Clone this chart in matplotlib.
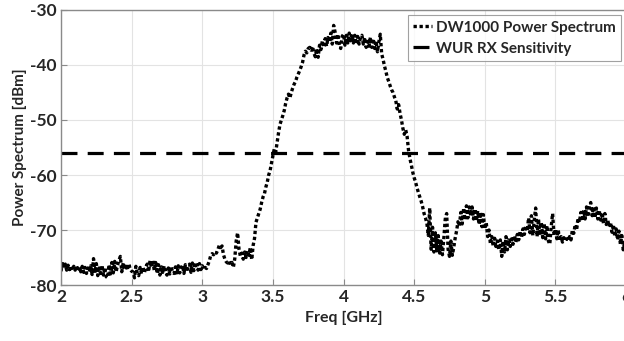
import numpy as np
import matplotlib
matplotlib.use("Agg")
import matplotlib.pyplot as plt

plt.rcParams['font.family'] = ['Lato', 'DejaVu Sans']
plt.rcParams['font.weight'] = 'bold'
plt.rcParams['axes.unicode_minus'] = False

power_dbm = [
    -77.5, -75.8, -77.0, -76.2, -77.3, -76.4, -77.2, -76.5, -77.4, -76.6,
    -77.3, -76.5, -77.5, -76.7, -77.6, -76.6, -77.7, -76.8, -77.9, -76.9,
    -77.6, -76.5, -78.1, -75.2, -77.8, -76.1, -78.3, -76.9, -77.9, -76.4,
    -78.2, -76.8, -78.5, -78.7, -76.3, -78.0, -75.9, -77.8, -75.7, -77.6,
    -76.4, -75.5, -74.8, -77.6, -76.0, -77.2, -76.2, -77.3, -76.1, -77.2,
    -77.5, -77.6, -78.7, -76.6, -77.9, -78.3, -76.8, -78.0, -76.7, -77.8,
    -76.7, -76.2, -77.6, -75.6, -76.8, -75.5, -77.4, -75.9, -77.9, -76.3,
    -78.2, -76.7, -77.7, -76.5, -77.8, -78.2, -76.9, -78.0, -76.6, -77.7,
    -77.9, -76.7, -78.1, -76.5, -77.8, -76.9, -76.4, -77.9, -76.3, -77.6,
    -76.7, -76.2, -77.7, -76.0, -77.4, -76.3, -75.9, -77.3, -76.1, -77.2,
    -76.5, -77.2, -76.8, -77.0, -76.3, -75.6, -74.6, -74.3, -74.5, -74.0,
    -74.2, -73.6, -72.8, -73.2, -72.9, -74.5, -75.3, -75.8, -76.0, -75.6,
    -76.3, -75.9, -76.8, -75.2, -72.0, -70.5, -73.5, -74.8, -74.2, -75.3,
    -74.0, -75.0, -73.8, -74.6, -73.2, -75.4, -72.8, -71.5, -68.6, -67.8,
    -67.0, -66.2, -65.0, -64.0, -63.4, -62.2, -61.3, -60.0, -59.2, -57.8,
    -56.5, -55.2, -55.8, -54.0, -52.3, -50.8, -50.0, -49.2, -48.3, -47.0,
    -46.0, -45.3, -46.0, -45.0, -44.2, -43.5, -43.0, -42.2, -41.6, -41.0,
    -40.3, -39.5, -38.2, -37.5, -37.8, -37.0, -36.8, -37.3, -36.6, -37.8,
    -38.5, -37.0, -38.6, -36.4, -37.2, -35.6, -36.8, -35.2, -36.6, -35.0,
    -35.8, -34.2, -36.2, -32.8, -34.0, -36.0, -34.4, -36.4, -37.0, -34.8,
    -34.4, -36.4, -34.6, -36.0, -34.2, -35.6, -34.4, -36.0, -34.6, -36.2,
    -34.8, -36.2, -35.0, -34.6, -36.2, -35.0, -36.8, -35.2, -36.6, -35.0,
    -36.8, -35.2, -37.0, -35.6, -37.6, -35.8, -34.4, -38.0, -39.0, -40.2,
    -41.2, -42.3, -43.0, -43.8, -44.5, -45.0, -45.8, -46.5, -48.0, -47.2,
    -48.8, -50.0, -51.5, -52.6, -51.8, -53.0, -55.5, -57.0, -58.2, -59.5,
    -60.5, -61.3, -62.3, -63.2, -64.0, -64.8, -65.8, -67.0, -67.8, -68.8,
    -71.0, -66.0, -73.5, -69.5, -74.0, -70.5, -73.8, -71.0, -74.2, -72.0,
    -74.5, -71.5, -68.0, -67.0, -73.5, -74.8, -72.0, -74.6, -73.2, -71.5,
    -70.2, -68.5, -69.3, -66.8, -68.9, -66.0, -68.2, -65.6, -67.8, -65.8,
    -67.4, -65.8, -68.0, -66.2, -68.4, -66.5, -69.0, -66.8, -69.4, -67.2,
    -69.8, -68.6, -71.2, -70.0, -72.6, -71.2, -73.0, -71.5, -73.4, -72.0,
    -73.6, -71.8, -74.8, -72.0, -74.0, -71.2, -73.6, -71.8, -73.0, -71.6,
    -72.6, -71.0, -72.2, -70.8, -71.8, -70.2, -71.4, -69.8, -70.8, -69.2,
    -70.2, -67.8, -70.5, -67.4, -71.0, -68.2, -66.0, -71.2, -68.0, -71.0,
    -68.6, -71.4, -68.8, -71.6, -69.2, -72.0, -72.6, -69.4, -67.0, -71.0,
    -69.8, -71.6, -70.0, -72.0, -71.2, -72.2, -71.4, -72.0, -71.6, -72.0,
    -71.2, -71.8, -70.0, -70.6, -69.0, -70.0, -67.8, -68.6, -66.8, -68.4,
    -66.4, -68.0, -65.8, -67.6, -65.6, -65.0, -67.4, -65.8, -67.8, -66.0,
    -68.0, -66.4, -68.2, -66.8, -68.8, -67.0, -69.0, -68.2, -69.4, -68.6,
    -70.4, -69.0, -71.2, -69.8, -71.8, -70.2, -72.6, -71.0, -73.6, -72.2,
    -74.0,
]
freq_start_ghz = 2.0
freq_stop_ghz = 6.0
freq_ghz = np.linspace(freq_start_ghz, freq_stop_ghz, len(power_dbm))

sensitivity_dbm = -56
x_ticks = [2, 2.5, 3, 3.5, 4, 4.5, 5, 5.5, 6]
x_tick_labels = ['2', '2.5', '3', '3.5', '4', '4.5', '5', '5.5', '6']
y_ticks = [-80, -70, -60, -50, -40, -30]
y_tick_labels = ['-80', '-70', '-60', '-50', '-40', '-30']
series_labels = ['DW1000 Power Spectrum', 'WUR RX Sensitivity']

fig = plt.figure(figsize=(6.24, 3.41), dpi=100)
ax = fig.add_axes([0.0978, 0.1642, 0.9055, 0.8065])

ax.plot(freq_ghz, power_dbm, color='black', linestyle=(0, (1, 0.8)), linewidth=2.4,
        label=series_labels[0])
ax.axhline(sensitivity_dbm, color='black', linestyle=(0, (5, 3.2)), linewidth=2.3,
           label=series_labels[1])

ax.set_xlim(2, 6)
ax.set_ylim(-80, -30)
ax.set_xticks(x_ticks)
ax.set_xticklabels(x_tick_labels)
ax.set_yticks(y_ticks)
ax.set_yticklabels(y_tick_labels)
ax.grid(True, color='#e3e3e3', linewidth=0.8)
ax.set_axisbelow(True)
for s in ax.spines.values():
    s.set_color('#8a8a8a')
    s.set_linewidth(1.0)
ax.tick_params(direction='in', length=4, color='#8a8a8a', labelsize=12.5,
               labelcolor='#262626', pad=3)
for lab in ax.get_xticklabels() + ax.get_yticklabels():
    lab.set_fontweight('bold')

ax.set_xlabel('Freq [GHz]', fontsize=11.5, fontweight='bold', color='#262626', labelpad=4)
ax.set_ylabel('Power Spectrum [dBm]', fontsize=11, fontweight='bold', color='#262626', labelpad=2)

leg = ax.legend(loc='upper right', frameon=True, fancybox=False,
                handlelength=1.2, handletextpad=0.25, borderpad=0.35,
                labelspacing=0.45, borderaxespad=0.35,
                prop={'weight': 'bold', 'size': 11})
leg.get_frame().set_edgecolor('#8a8a8a')
leg.get_frame().set_linewidth(0.8)
for t in leg.get_texts():
    t.set_color('#262626')

fig.savefig('out.png', dpi=100)
